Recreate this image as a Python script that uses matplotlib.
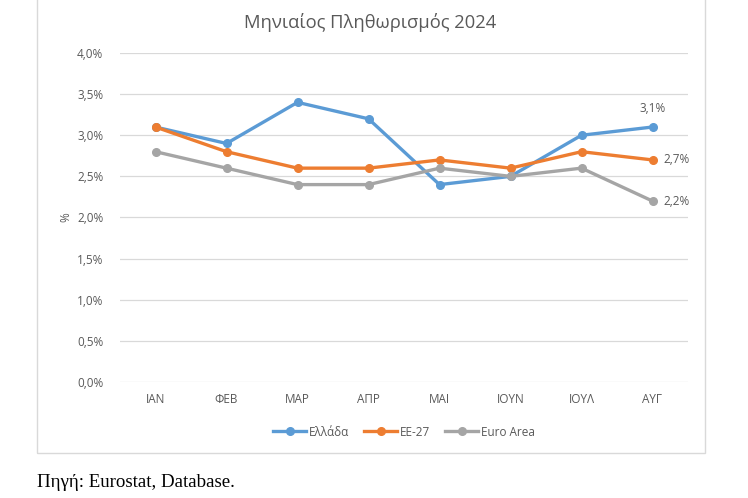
import matplotlib
matplotlib.use("Agg")
import matplotlib.pyplot as plt
from matplotlib.patches import Rectangle
from matplotlib.ticker import FuncFormatter

months = ["ΙΑΝ", "ΦΕΒ", "ΜΑΡ", "ΑΠΡ", "ΜΑΙ", "ΙΟΥΝ", "ΙΟΥΛ", "ΑΥΓ"]
greece = [3.1, 2.9, 3.4, 3.2, 2.4, 2.5, 3.0, 3.1]
eu27 = [3.1, 2.8, 2.6, 2.6, 2.7, 2.6, 2.8, 2.7]
euro_area = [2.8, 2.6, 2.4, 2.4, 2.6, 2.5, 2.6, 2.2]
series_names = ["Ελλάδα", "ΕΕ-27", "Euro Area"]

plt.rcParams['font.family'] = ['Open Sans', 'DejaVu Sans']
txt = "#595959"
fs = 8.5

fig = plt.figure(figsize=(7.48, 4.98), dpi=100)
W, H = 748, 498
fig.patches.append(Rectangle((37 / W, 1 - 453 / H), (705 - 37) / W, 453 / H + 0.01,
                             transform=fig.transFigure, fill=False,
                             edgecolor="#d9d9d9", linewidth=1.0))

ax = fig.add_axes([120 / W, 1 - 382 / H, (688 - 120) / W, (382 - 53) / H])
x = list(range(len(months)))
colors = ["#5B9BD5", "#ED7D31", "#A5A5A5"]
for vals, name, c in zip([greece, eu27, euro_area], series_names, colors):
    ax.plot(x, vals, color=c, linewidth=2.4, marker="o", markersize=5.5, label=name, zorder=3)

ax.set_xlim(-0.5, len(months) - 0.5)
ax.set_ylim(0, 4.0)
ax.set_yticks([i * 0.5 for i in range(9)])
ax.yaxis.set_major_formatter(FuncFormatter(lambda v, p: f"{v:.1f}%".replace(".", ",")))
ax.set_xticks(x)
ax.set_xticklabels(months)
ax.grid(axis="y", color="#d9d9d9", linewidth=0.9)
ax.set_axisbelow(True)
for s in ax.spines.values():
    s.set_visible(False)
ax.tick_params(length=0, labelsize=fs, colors=txt)
ax.tick_params(axis="x", pad=8)
ax.tick_params(axis="y", pad=12)
ax.set_ylabel("%", color=txt, fontsize=fs, labelpad=3)

ax.annotate(f"{greece[-1]:.1f}%".replace(".", ","), (x[-1], greece[-1]), xytext=(0, 9),
            textcoords="offset points", ha="center", va="bottom", fontsize=fs, color=txt)
ax.annotate(f"{eu27[-1]:.1f}%".replace(".", ","), (x[-1], eu27[-1]), xytext=(8, 0),
            textcoords="offset points", ha="left", va="center", fontsize=fs, color=txt)
ax.annotate(f"{euro_area[-1]:.1f}%".replace(".", ","), (x[-1], euro_area[-1]), xytext=(8, 0),
            textcoords="offset points", ha="left", va="center", fontsize=fs, color=txt)

fig.text(370 / W, 1 - 22 / H, "Μηνιαίος Πληθωρισμός 2024", ha="center", va="center",
         fontsize=13.2, color=txt)

leg = ax.legend(loc="center", bbox_to_anchor=(0.5, (382 - 432) / (382 - 53)), ncol=3,
                frameon=False, fontsize=fs, handlelength=2.8, columnspacing=1.3,
                handletextpad=0.2)
for t in leg.get_texts():
    t.set_color(txt)

fig.text(37 / W, 1 - 482 / H, "Πηγή: Eurostat, Database.", ha="left", va="center",
         fontsize=13.6, family=['Liberation Serif', 'DejaVu Serif'], color="black")

fig.savefig("out.png", dpi=100)
